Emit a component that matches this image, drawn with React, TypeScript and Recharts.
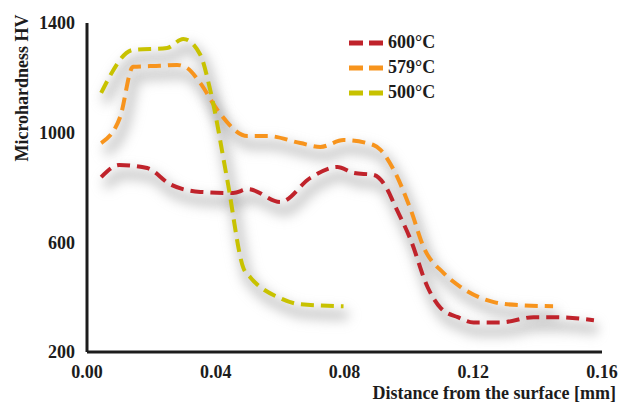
import { Line, LineChart, XAxis, YAxis } from 'recharts'

// distance from the surface [mm] / microhardness HV
const red600X = [0.0044, 0.01, 0.0187, 0.0258, 0.0352, 0.0454, 0.0501, 0.0601, 0.0694, 0.0778, 0.0828, 0.089, 0.0934, 0.0953, 0.1006, 0.1058, 0.1099, 0.1152, 0.1201, 0.1286, 0.1388, 0.1451, 0.1575]
const red600Y = [838, 882, 871, 812, 784, 780, 794, 747, 835, 875, 853, 846, 791, 743, 608, 437, 360, 327, 308, 308, 327, 327, 316]

const orange579X = [0.0044, 0.0103, 0.0143, 0.0227, 0.028, 0.0311, 0.0352, 0.0405, 0.0498, 0.056, 0.0663, 0.0725, 0.0797, 0.089, 0.0912, 0.0953, 0.1006, 0.1046, 0.1108, 0.1161, 0.1264, 0.1339, 0.1448]
const orange579Y = [962, 1057, 1240, 1244, 1247, 1236, 1181, 1083, 988, 988, 962, 948, 973, 955, 937, 864, 718, 582, 488, 437, 382, 371, 367]

const green500X = [0.0044, 0.0143, 0.0249, 0.0299, 0.0352, 0.0383, 0.0436, 0.0486, 0.0507, 0.0601, 0.0663, 0.0797]
const green500Y = [1145, 1302, 1309, 1342, 1284, 1155, 827, 506, 473, 396, 374, 367]

const xTicks = [0, 0.04, 0.08, 0.12, 0.16]
const yTicks = [200, 600, 1000, 1400]

const toPoints = (xs: number[], ys: number[]) => xs.map((x, i) => ({ x, hv: ys[i] }))

const series = [
  { name: '600°C', color: '#C0232B', data: toPoints(red600X, red600Y) },
  { name: '579°C', color: '#F7941D', data: toPoints(orange579X, orange579Y) },
  { name: '500°C', color: '#C8C200', data: toPoints(green500X, green500Y) }
]

const FONT = '"Liberation Serif", "Times New Roman", serif'
const INK = '#1c1c1c'

const tickStyle = { fontFamily: FONT, fontSize: 18, fontWeight: 700, fill: INK }

// drop shadow: the same curves on hidden axes nudged a few pixels right/down
const SHADOW_DX = 0.0013
const SHADOW_DY = 33

export default function App() {
  return (
    <div style={{ position: 'absolute', left: 0, top: 0, width: 623, height: 404, background: '#fff' }}>
      <svg width={1} height={1} style={{ position: 'absolute', left: 0, top: 0 }}>
        <defs>
          <filter id="hvBlur" x="-10%" y="-20%" width="120%" height="140%">
            <feGaussianBlur stdDeviation={4} />
          </filter>
        </defs>
      </svg>
      <style>{`
        .hv-shadow, .hv-shadow path { filter: blur(4px); }
      `}</style>
      <LineChart
        width={623}
        height={404}
        margin={{ top: 23, right: 21, bottom: 22, left: 0 }}
      >
        <XAxis
          type="number"
          dataKey="x"
          domain={[0, 0.16]}
          ticks={xTicks}
          allowDataOverflow
          height={30}
          tickLine={false}
          tickMargin={7}
          tickFormatter={(v: number) => v.toFixed(2)}
          tick={tickStyle}
          axisLine={{ stroke: INK, strokeWidth: 3 }}
          label={{
            content: () => (
              <text
                x={616}
                y={399}
                textAnchor="end"
                style={{ fontFamily: FONT, fontSize: 18, fontWeight: 700, fill: INK }}
              >
                Distance from the surface [mm]
              </text>
            )
          }}
        />
        <XAxis
          xAxisId="shadow"
          type="number"
          dataKey="x"
          domain={[-SHADOW_DX, 0.16 - SHADOW_DX]}
          allowDataOverflow
          hide
        />
        <YAxis
          type="number"
          dataKey="hv"
          domain={[200, 1400]}
          ticks={yTicks}
          width={87}
          tickLine={false}
          tickMargin={6}
          tick={tickStyle}
          axisLine={{ stroke: INK, strokeWidth: 3 }}
          label={{
            content: () => (
              <text
                x={28}
                y={88}
                textAnchor="middle"
                transform="rotate(-90 28 88)"
                style={{ fontFamily: FONT, fontSize: 18, fontWeight: 700, fill: INK }}
              >
                Microhardness HV
              </text>
            )
          }}
        />
        <YAxis
          yAxisId="shadow"
          type="number"
          dataKey="hv"
          domain={[200 + SHADOW_DY, 1400 + SHADOW_DY]}
          allowDataOverflow
          hide
        />
        {series.map(s => (
          <Line
            key={'sh' + s.name}
            xAxisId="shadow"
            yAxisId="shadow"
            className="hv-shadow"
            data={s.data}
            dataKey="hv"
            type="monotone"
            stroke="#8c8c8c"
            strokeOpacity={0.6}
            strokeWidth={8}
            filter="url(#hvBlur)"
            dot={false}
            activeDot={false}
            legendType="none"
            isAnimationActive={false}
          />
        ))}
        {series.map(s => (
          <Line
            key={s.name}
            data={s.data}
            dataKey="hv"
            name={s.name}
            type="monotone"
            stroke={s.color}
            strokeWidth={4}
            strokeDasharray="13 7"
            dot={false}
            activeDot={false}
            isAnimationActive={false}
          />
        ))}
      </LineChart>
      <div style={{ position: 'absolute', left: 349, top: 30 }}>
        {series.map(s => (
          <div key={s.name} style={{ display: 'flex', alignItems: 'center', height: 25 }}>
            <svg width={34} height={10}>
              <line x1={0} y1={5} x2={34} y2={5} stroke={s.color} strokeWidth={5} strokeDasharray="14 6" />
            </svg>
            <span style={{ marginLeft: 5, fontFamily: FONT, fontSize: 18, fontWeight: 700, color: INK }}>
              {s.name}
            </span>
          </div>
        ))}
      </div>
    </div>
  )
}
